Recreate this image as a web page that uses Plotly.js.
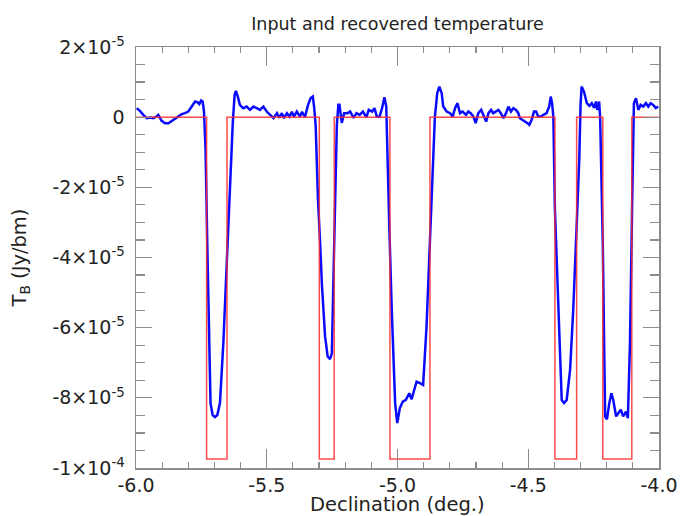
<!DOCTYPE html>
<html>
<head>
<meta charset="utf-8">
<script src="https://cdn.plot.ly/plotly-3.0.1.min.js"></script>
<style>html,body{margin:0;padding:0;background:#fff;}#chart{width:681px;height:516px;}</style>
</head>
<body>
<div id="chart"></div>
<script>
// Recovered temperature (blue), values in units of 1e-6 Jy/bm
const recoveredDec = [
 -5.997,-5.985,-5.972,-5.959,-5.946,-5.934,-5.921,-5.915,-5.902,-5.889,-5.876,-5.863,-5.851,-5.838,-5.825,-5.813,-5.800,-5.787,-5.774,-5.764,-5.758,-5.751,-5.745,-5.740,
 -5.734,-5.727,-5.719,-5.715,-5.707,-5.698,-5.689,-5.679,-5.666,-5.653,-5.641,-5.630,
 -5.623,-5.618,-5.609,-5.603,-5.590,-5.577,-5.564,-5.551,-5.538,-5.526,-5.513,-5.500,-5.487,-5.474,-5.461,-5.452,-5.442,-5.434,-5.423,-5.413,-5.404,-5.396,-5.385,-5.373,-5.365,-5.354,-5.342,-5.332,-5.324,-5.319,-5.313,
 -5.304,-5.296,-5.289,-5.277,-5.267,-5.258,-5.251,-5.242,-5.232,
 -5.226,-5.222,-5.213,-5.204,-5.191,-5.181,-5.168,-5.157,-5.145,-5.132,-5.119,-5.110,-5.097,-5.088,-5.079,-5.069,-5.059,-5.050,-5.043,
 -5.039,-5.031,-5.022,-5.009,-5.001,-4.991,-4.980,-4.968,-4.955,-4.946,-4.936,-4.927,-4.914,-4.902,-4.889,-4.876,-4.863,-4.857,
 -4.848,-4.840,-4.831,-4.825,-4.812,-4.799,-4.789,-4.780,-4.771,-4.761,-4.751,-4.738,-4.729,-4.720,-4.710,-4.701,-4.691,-4.680,-4.672,-4.661,-4.652,-4.642,-4.634,-4.623,-4.614,-4.605,-4.595,-4.585,-4.576,-4.566,-4.557,-4.547,-4.538,-4.532,-4.521,-4.512,-4.503,-4.496,-4.487,-4.478,-4.470,-4.462,-4.452,-4.442,-4.430,-4.420,-4.414,-4.409,-4.404,
 -4.398,-4.385,-4.372,-4.363,-4.353,-4.340,-4.328,-4.315,-4.305,-4.300,
 -4.296,-4.287,-4.276,-4.266,-4.257,-4.248,-4.241,-4.236,-4.229,-4.225,
 -4.215,-4.206,-4.199,-4.190,-4.182,-4.175,-4.164,-4.156,-4.146,-4.137,-4.126,-4.119,-4.111,-4.103,-4.096,
 -4.088,-4.079,-4.070,-4.060,-4.050,-4.041,-4.032,-4.022,-4.012,-4.003
];
const recoveredT = [
 2.57,1.80,0.66,-0.29,-0.11,-0.29,0.17,0.66,-1.05,-1.71,-1.71,-1.05,-0.29,0.17,0.86,1.14,1.60,3.02,4.45,4.20,3.71,4.73,4.45,1.60,
 -9.3,-37.8,-66.3,-81.5,-84.9,-85.5,-84.9,-81.5,-64.4,-40.7,-16.9,-1.71,
 6.36,7.50,5.42,3.51,2.57,3.02,2.08,3.02,2.57,2.08,3.02,1.60,0.66,-0.29,1.14,-0.11,1.14,-0.29,1.14,0.17,1.51,0.17,1.60,0.17,1.51,0.00,3.51,5.42,5.87,3.02,-2.19,
 -23.6,-35.8,-47.8,-62.5,-68.2,-69.0,-67.3,-35.9,-2.19,
 3.51,3.51,-1.62,1.14,1.14,1.60,-0.20,1.14,0.66,1.60,-0.06,2.08,1.60,2.57,0.17,0.09,2.57,5.70,3.02,
 -12.2,-32.1,-54.9,-81.5,-87.2,-82.9,-81.1,-80.6,-78.7,-80.4,-77.7,-75.4,-75.8,-76.3,-59.7,-34.0,-7.4,0.17,
 6.84,8.72,6.84,3.02,1.60,1.14,0.17,2.57,3.99,1.14,1.60,0.66,1.60,1.14,0.17,-1.71,1.14,2.08,0.66,-1.25,1.14,2.08,1.14,1.60,2.08,1.14,-0.29,1.14,3.02,1.60,2.57,2.08,1.14,-0.29,-0.77,-1.25,-1.71,-2.19,-0.77,1.60,1.60,0.17,0.17,0.66,1.14,3.02,5.87,3.99,0.17,
 -26.4,-54.9,-80.6,-81.5,-80.6,-72.0,-54.9,-31.2,-12.2,3.51,
 8.72,7.30,3.99,3.22,3.99,2.65,4.45,2.08,4.45,-0.20,
 -35.9,-85.3,-86.1,-81.5,-78.7,-80.6,-85.3,-84.4,-83.4,-85.3,-83.9,-85.8,-64.4,-26.4,3.99,
 5.42,2.08,3.51,3.02,3.99,3.02,3.99,3.51,2.57,3.02
];
// Input temperature (red step function): edges in declination and levels (1e-6 Jy/bm)
const inputDec = [-6.0,-5.730,-5.652,-5.299,-5.242,-5.029,-4.876,-4.398,-4.315,-4.215,-4.104,-4.0];
const inputT   = [0,-97.4,0,-97.4,0,-97.4,0,-97.4,0,-97.4,0,0];
const UNIT = 1e-6;

const yTickVals = [2e-5,0,-2e-5,-4e-5,-6e-5,-8e-5,-1e-4];
const yTickText = ['2\u00d710<sup>-5</sup>','0','-2\u00d710<sup>-5</sup>','-4\u00d710<sup>-5</sup>','-6\u00d710<sup>-5</sup>','-8\u00d710<sup>-5</sup>','-1\u00d710<sup>-4</sup>'];
const xTickVals = [-6.0,-5.5,-5.0,-4.5,-4.0];
const xTickText = ['-6.0','-5.5','-5.0','-4.5','-4.0'];
const xTitle = 'Declination (deg.)';

const axisGrey = '#8c8c8c';
const txt = '#222222';

const traces = [
  {x: recoveredDec, y: recoveredT.map(v => v*UNIT), type:'scatter', mode:'lines',
   line:{color:'#0a0aff', width:2.5}, name:'Recovered'},
  {x: inputDec, y: inputT.map(v => v*UNIT), type:'scatter', mode:'lines',
   line:{color:'#ff2a2a', width:1.5, shape:'hv'}, opacity:0.85, name:'Input'}
];

const layout = {
  width:681, height:516,
  margin:{l:136, r:22, t:47, b:48},
  paper_bgcolor:'#fff', plot_bgcolor:'#fff',
  showlegend:false,
  font:{family:'DejaVu Sans', color:txt},
  title:{text:'Input and recovered temperature', font:{family:'DejaVu Sans', size:17.5, color:txt}, x:0.5, xref:'paper', y:0.953, yanchor:'middle'},
  xaxis:{range:[-6,-4], tickmode:'array', tickvals:xTickVals, ticktext:xTickText,
    ticks:'inside', ticklen:19, tickwidth:1.3, tickcolor:axisGrey,
    showline:true, linecolor:axisGrey, linewidth:1.5, mirror:'ticks',
    showgrid:false, zeroline:false,
    tickfont:{size:19, color:txt}, ticklabelstandoff:0,
    minor:{tickmode:'linear', tick0:-6, dtick:0.1, ticks:'inside', ticklen:6, tickwidth:1.2, tickcolor:axisGrey, showgrid:false}},
  yaxis:{range:[-1e-4, 2e-5], tickmode:'array', tickvals:yTickVals, ticktext:yTickText,
    ticks:'inside', ticklen:16, tickwidth:1.3, tickcolor:axisGrey,
    showline:true, linecolor:axisGrey, linewidth:1.5, mirror:'ticks',
    showgrid:false, zeroline:false,
    tickfont:{size:19, color:txt}, ticklabelstandoff:6,
    minor:{tickmode:'linear', tick0:0, dtick:5e-6, ticks:'inside', ticklen:9, tickwidth:1.2, tickcolor:axisGrey, showgrid:false},
    title:{text:'T<sub>B</sub> (Jy/bm)', font:{size:19.5, color:txt}, standoff:20}},
  annotations:[{text:xTitle, xref:'paper', yref:'paper', x:0.5, y:-0.087, xanchor:'center', yanchor:'middle',
    showarrow:false, borderpad:0, font:{size:19.5, color:txt}}]
};

Plotly.newPlot('chart', traces, layout, {displayModeBar:false, staticPlot:true});
</script>
</body>
</html>
